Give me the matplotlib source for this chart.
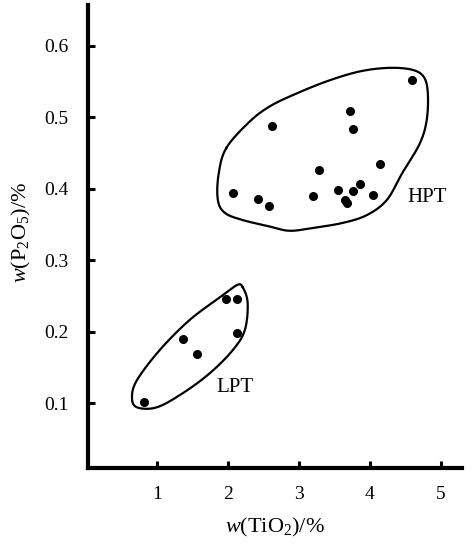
import numpy as np
import matplotlib
matplotlib.use('Agg')
import matplotlib.pyplot as plt

# --- Données ------------------------------------------------
hpt_tio2 = [4.59, 2.62, 3.72, 3.77, 3.28, 4.15, 2.08, 2.42, 2.58,
            3.20, 3.55, 3.76, 3.86, 3.65, 3.68, 4.04]
hpt_p2o5 = [0.552, 0.487, 0.508, 0.484, 0.426, 0.435, 0.394, 0.386, 0.375,
            0.390, 0.398, 0.396, 0.407, 0.384, 0.380, 0.391]

lpt_tio2 = [1.97, 2.13, 2.13, 1.37, 1.56, 0.82]
lpt_p2o5 = [0.245, 0.245, 0.198, 0.190, 0.169, 0.101]

# contours tracés à la main (sommets)
hpt_env_x = [1.98, 2.31, 2.59, 2.92, 3.39, 3.86, 4.28, 4.61, 4.77,
             4.82, 4.80, 4.70, 4.46, 4.24, 3.96, 3.62, 3.20, 2.87, 2.59,
             2.21, 1.96, 1.86, 1.87]
hpt_env_y = [0.457, 0.494, 0.515, 0.531, 0.550, 0.564, 0.569, 0.566,
             0.555, 0.531, 0.494, 0.462, 0.422, 0.384, 0.363, 0.352, 0.345,
             0.341, 0.347, 0.356, 0.366, 0.384, 0.420]

lpt_env_x = [2.21, 2.28, 2.24, 2.07, 1.75, 1.37, 1.00, 0.72, 0.65, 0.72,
             1.04, 1.46, 1.89, 2.13]
lpt_env_y = [0.262, 0.240, 0.202, 0.174, 0.142, 0.114, 0.094, 0.094, 0.108,
             0.132, 0.174, 0.216, 0.248, 0.265]

x_ticks = [1, 2, 3, 4, 5]
y_ticks = [0.1, 0.2, 0.3, 0.4, 0.5, 0.6]


def closed_spline(xs, ys, n=20):
    # Catmull-Rom fermé pour lisser le contour
    p = np.column_stack([xs, ys])
    m = len(p)
    out = []
    for i in range(m):
        p0, p1, p2, p3 = p[i - 1], p[i], p[(i + 1) % m], p[(i + 2) % m]
        t = np.linspace(0, 1, n, endpoint=False)[:, None]
        out.append(0.5 * ((2 * p1) + (-p0 + p2) * t
                          + (2 * p0 - 5 * p1 + 4 * p2 - p3) * t ** 2
                          + (-p0 + 3 * p1 - 3 * p2 + p3) * t ** 3))
    out = np.vstack(out + [out[0][:1]])
    return out[:, 0], out[:, 1]


plt.rcParams['font.family'] = ['Liberation Serif', 'DejaVu Serif']
plt.rcParams['mathtext.fontset'] = 'custom'
plt.rcParams['mathtext.rm'] = 'Liberation Serif'
plt.rcParams['mathtext.it'] = 'Liberation Serif:italic'

fig = plt.figure(figsize=(4.72, 5.5), dpi=100)
ax = fig.add_axes([0.1864, 0.149, 0.7924, 0.842])

ax.plot(hpt_tio2, hpt_p2o5, 'o', color='black', markersize=5.5)
ax.plot(lpt_tio2, lpt_p2o5, 'o', color='black', markersize=5.5)

for ex, ey in [(hpt_env_x, hpt_env_y), (lpt_env_x, lpt_env_y)]:
    sx, sy = closed_spline(ex, ey)
    ax.plot(sx, sy, color='black', linewidth=1.6)

ax.text(4.535, 0.387, "HPT", fontsize=15, ha='left', va='center')
ax.text(1.845, 0.122, "LPT", fontsize=15, ha='left', va='center')

ax.set_xlim(0.03, 5.3)
ax.set_ylim(0.009, 0.657)
ax.set_xticks(x_ticks)
ax.set_xticklabels([str(v) for v in x_ticks])
ax.set_yticks(y_ticks)
ax.set_yticklabels([f"{v:.1f}" for v in y_ticks])
ax.tick_params(direction='in', length=5, width=2.2, labelsize=14, pad=14)
ax.tick_params(axis='x', pad=13)

ax.spines[["top", "right"]].set_visible(False)
ax.spines["left"].set_linewidth(3)
ax.spines["bottom"].set_linewidth(3)

ax.set_xlabel(r"$w$(TiO$_2$)/%", fontsize=16)
ax.set_ylabel(r"$w$(P$_2$O$_5$)/%", fontsize=16)
ax.xaxis.set_label_coords(0.5, -0.104)
ax.yaxis.set_label_coords(-0.148, 0.508)

plt.savefig("out.png", dpi=100)
plt.close()
